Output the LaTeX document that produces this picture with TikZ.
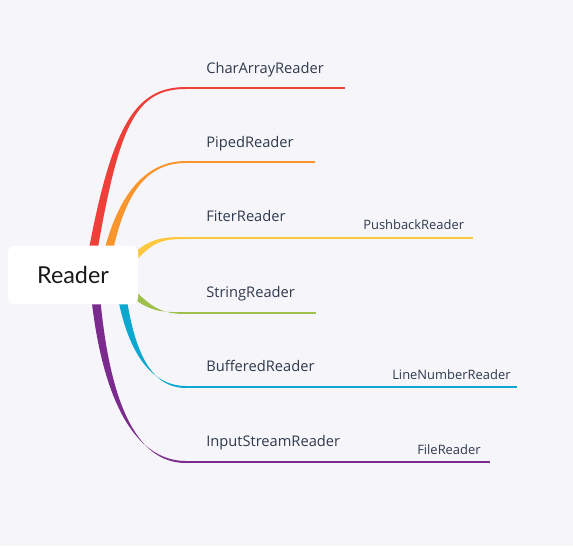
\documentclass[tikz,border=0pt]{standalone}
\usepackage{fontspec}
\setmainfont{Open Sans}
\newfontfamily\rootfont{Lato}
\usetikzlibrary{calc}
\definecolor{bg}{HTML}{F5F5FA}
\definecolor{txt}{HTML}{2F3A4C}
\definecolor{cRed}{HTML}{EE3F38}
\definecolor{cOrange}{HTML}{F8952D}
\definecolor{cYellow}{HTML}{FDC83E}
\definecolor{cGreen}{HTML}{9FC04B}
\definecolor{cBlue}{HTML}{0DA8D0}
\definecolor{cPurple}{HTML}{7B2A8D}
% color, start, c1, c2, end, start offset, end offset
\newcommand\taper[7]{%
  \fill[#1] ($(#2)-(#6)$) .. controls ($(#3)-0.8*(#6)$) and ($(#4)-(#7)$) .. ($(#5)-(#7)$)
    -- ($(#5)+(#7)$) .. controls ($(#4)+(#7)$) and ($(#3)+0.8*(#6)$) .. ($(#2)+(#6)$) -- cycle;}
\tikzset{
  lbl/.style={anchor=base west, inner sep=0pt, text=txt, font=\fontsize{11}{13}\selectfont},
  sublbl/.style={anchor=base west, inner sep=0pt, text=txt, font=\fontsize{9.7}{11}\selectfont},
  uline/.style={line width=1.5pt},
  rootbox/.style={fill=white, rounded corners=5pt, minimum width=97.5pt, minimum height=44pt, inner sep=0pt,
    font=\rootfont\fontsize{17.5}{20}\selectfont, text=black!90}
}
\begin{document}
\begin{tikzpicture}[x=0.75pt,y=-0.75pt]
\fill[bg] (0,0) rectangle (573,546);
\useasboundingbox (0,0) rectangle (573,546);
% branch curve coordinates
\coordinate (s1) at (91,262); \coordinate (p1a) at (115,125); \coordinate (p1b) at (135,88);
\coordinate (s2) at (106,262); \coordinate (p2a) at (120,195); \coordinate (p2b) at (145,162);
\coordinate (s3) at (128,264); \coordinate (p3a) at (150,240); \coordinate (p3b) at (160,238);
\coordinate (s4) at (128,288); \coordinate (p4a) at (150,312); \coordinate (p4b) at (165,313);
\coordinate (s5) at (121,290); \coordinate (p5a) at (130,350); \coordinate (p5b) at (150,387);
\coordinate (s6) at (95,290); \coordinate (p6a) at (105,400); \coordinate (p6b) at (135,462);
% underline coordinates
\coordinate (a1) at (186,88);  \coordinate (b1) at (345,88);
\coordinate (a2) at (186,162); \coordinate (b2) at (315,162);
\coordinate (a3) at (186,238); \coordinate (m3) at (306,238); \coordinate (n3) at (356,238); \coordinate (b3) at (473,238);
\coordinate (a4) at (186,313); \coordinate (b4) at (316,313);
\coordinate (a5) at (186,387); \coordinate (m5) at (334,387); \coordinate (n5) at (384,387); \coordinate (b5) at (517,387);
\coordinate (a6) at (186,462); \coordinate (m6) at (360,462); \coordinate (n6) at (410,462); \coordinate (b6) at (490,462);
% curved connectors (tapered)
\taper{cRed}{s1}{p1a}{p1b}{a1}{4.5,0}{0,1}
\taper{cOrange}{s2}{p2a}{p2b}{a2}{4.5,0}{0,1}
\taper{cYellow}{s3}{p3a}{p3b}{a3}{2.6,2.6}{0,1}
\taper{cGreen}{s4}{p4a}{p4b}{a4}{-2.6,2.6}{0,-1}
\taper{cBlue}{s5}{p5a}{p5b}{a5}{-4.5,0}{0,-1}
\taper{cPurple}{s6}{p6a}{p6b}{a6}{-4.5,0}{0,-1}
% underlines
\draw[uline,cRed] (a1) -- (b1);
\draw[uline,cOrange] (a2) -- (b2);
\draw[uline,cYellow] (a3) -- (m3) -- (n3) -- (b3);
\draw[uline,cGreen] (a4) -- (b4);
\draw[uline,cBlue] (a5) -- (m5) -- (n5) -- (b5);
\draw[uline,cPurple] (a6) -- (m6) -- (n6) -- (b6);
% root
\node[rootbox] (root) at (73,275) {Reader};
% labels
\node[lbl] (l1) at (206,73) {CharArrayReader};
\node[lbl] (l2) at (206,147) {PipedReader};
\node[lbl] (l3) at (206,221) {FiterReader};
\node[lbl] (l4) at (206,297) {StringReader};
\node[lbl] (l5) at (206,371) {BufferedReader};
\node[lbl] (l6) at (206,446) {InputStreamReader};
\node[sublbl] (k3) at (363,229) {PushbackReader};
\node[sublbl] (k5) at (392,379) {LineNumberReader};
\node[sublbl] (k6) at (417,454) {FileReader};
\end{tikzpicture}
\end{document}
